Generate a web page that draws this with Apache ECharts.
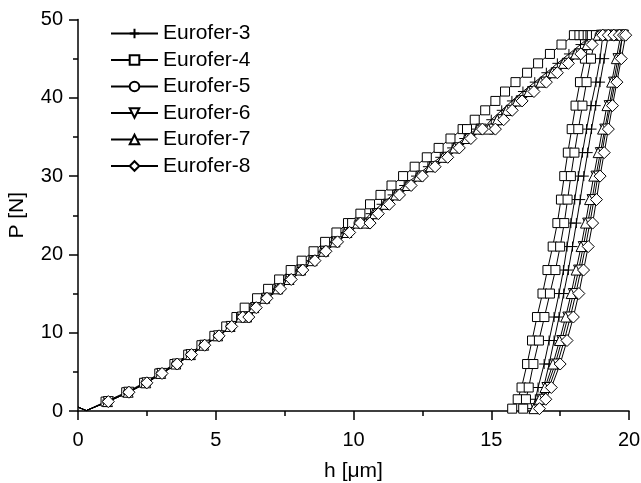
<!DOCTYPE html>
<html>
<head>
<meta charset="utf-8">
<title>Eurofer P-h</title>
<script src="https://cdn.jsdelivr.net/npm/echarts@6.0.0/dist/echarts.min.js"></script>
<style>
  html, body { margin: 0; padding: 0; background: #fff; }
  #chart { width: 641px; height: 483px; }
</style>
</head>
<body>
<div id="chart"></div>
<script>
// loading branch: load levels [N] (holds at 12, 24, 36 and 48 N)
const loadP = [0.5, 0.05, 1.2, 2.4, 3.6, 4.8, 6.0, 7.2, 8.4, 9.6, 10.8, 12.0, 12.0, 13.2, 14.4, 15.6, 16.8, 18.0, 19.2, 20.4, 21.6, 22.8, 24.0, 24.0, 25.2, 26.4, 27.6, 28.8, 30.0, 31.2, 32.4, 33.6, 34.8, 36.0, 36.0, 37.2, 38.4, 39.6, 40.8, 42.0, 43.2, 44.4, 45.6, 46.8, 48.0, 48.0, 48.0, 48.0, 48.0];

// depth [um] at each load level
const loadH3 = [0.0, 0.3, 1.05, 1.8, 2.45, 3.0, 3.55, 4.06, 4.55, 5.05, 5.5, 5.88, 6.08, 6.28, 6.7, 7.12, 7.52, 7.95, 8.38, 8.8, 9.2, 9.62, 10.05, 10.3, 10.62, 11.02, 11.42, 11.84, 12.27, 12.7, 13.15, 13.58, 14.02, 14.45, 14.7, 15.0, 15.38, 15.75, 16.15, 16.58, 17.0, 17.4, 17.82, 18.24, 18.65, 18.75, 18.85, 18.95, 19.05];
const loadH4 = [0.0, 0.3, 1.0, 1.75, 2.4, 2.95, 3.5, 4.0, 4.48, 4.95, 5.38, 5.75, 5.92, 6.05, 6.5, 6.9, 7.3, 7.72, 8.12, 8.55, 8.97, 9.38, 9.8, 9.95, 10.25, 10.6, 10.98, 11.38, 11.8, 12.22, 12.66, 13.09, 13.52, 13.96, 14.12, 14.4, 14.78, 15.15, 15.5, 15.88, 16.3, 16.7, 17.13, 17.55, 18.0, 18.2, 18.35, 18.5, 18.6];
const loadH5 = [0.0, 0.3, 1.08, 1.83, 2.48, 3.03, 3.58, 4.1, 4.58, 5.1, 5.55, 5.95, 6.16, 6.42, 6.82, 7.3, 7.7, 8.12, 8.55, 8.96, 9.37, 9.8, 10.2, 10.52, 10.82, 11.22, 11.6, 12.02, 12.43, 12.88, 13.33, 13.75, 14.18, 14.6, 15.0, 15.32, 15.65, 16.02, 16.44, 16.88, 17.3, 17.7, 18.14, 18.55, 18.95, 19.2, 19.4, 19.6, 19.75];
const loadH6 = [0.0, 0.3, 1.1, 1.84, 2.5, 3.04, 3.6, 4.1, 4.6, 5.1, 5.56, 5.96, 6.18, 6.45, 6.84, 7.32, 7.72, 8.14, 8.58, 8.98, 9.4, 9.83, 10.22, 10.56, 10.86, 11.26, 11.64, 12.06, 12.47, 12.92, 13.38, 13.8, 14.22, 14.64, 15.08, 15.4, 15.72, 16.08, 16.5, 16.95, 17.36, 17.76, 18.2, 18.6, 19.0, 19.2, 19.42, 19.6, 19.78];
const loadH7 = [0.0, 0.3, 1.07, 1.82, 2.46, 3.0, 3.55, 4.08, 4.56, 5.07, 5.52, 5.92, 6.12, 6.38, 6.78, 7.25, 7.66, 8.08, 8.5, 8.92, 9.33, 9.76, 10.15, 10.45, 10.76, 11.15, 11.53, 11.95, 12.36, 12.8, 13.25, 13.67, 14.1, 14.52, 14.9, 15.22, 15.56, 15.94, 16.36, 16.8, 17.22, 17.62, 18.06, 18.48, 18.88, 19.1, 19.32, 19.52, 19.7];
const loadH8 = [0.0, 0.3, 1.1, 1.85, 2.5, 3.05, 3.6, 4.12, 4.6, 5.12, 5.58, 5.98, 6.2, 6.47, 6.86, 7.35, 7.74, 8.16, 8.6, 9.0, 9.42, 9.86, 10.25, 10.6, 10.9, 11.3, 11.67, 12.09, 12.5, 12.96, 13.42, 13.84, 14.26, 14.68, 15.15, 15.45, 15.76, 16.12, 16.55, 17.0, 17.4, 17.8, 18.25, 18.66, 19.05, 19.25, 19.45, 19.65, 19.8];

// unloading branch
const unloadP = [48, 45, 42, 39, 36, 33, 30, 27, 24, 21, 18, 15, 12, 9, 6, 3, 1.5, 0.3];
const unloadH3a = [19.1, 18.95, 18.8, 18.62, 18.46, 18.31, 18.16, 18.03, 17.89, 17.75, 17.62, 17.46, 17.28, 17.1, 16.92, 16.7, 16.6, 16.48];
const unloadH3b = [19.25, 19.1, 18.95, 18.79, 18.64, 18.5, 18.36, 18.23, 18.09, 17.95, 17.8, 17.63, 17.46, 17.28, 17.1, 16.9, 16.76, 16.6];
const unloadH4a = [18.65, 18.4, 18.22, 18.06, 17.92, 17.78, 17.65, 17.53, 17.4, 17.23, 17.04, 16.86, 16.66, 16.48, 16.3, 16.1, 15.96, 15.76];
const unloadH4b = [18.8, 18.62, 18.46, 18.31, 18.16, 18.02, 17.89, 17.77, 17.65, 17.5, 17.33, 17.13, 16.93, 16.73, 16.53, 16.36, 16.26, 16.16];
const unloadH5 = [19.82, 19.66, 19.5, 19.33, 19.17, 19.02, 18.87, 18.73, 18.58, 18.42, 18.25, 18.07, 17.87, 17.65, 17.4, 17.1, 16.9, 16.7];
const unloadH6 = [19.8, 19.6, 19.44, 19.28, 19.12, 18.96, 18.8, 18.66, 18.5, 18.34, 18.17, 17.98, 17.78, 17.56, 17.32, 17.02, 16.83, 16.62];
const unloadH7 = [19.74, 19.54, 19.37, 19.2, 19.04, 18.88, 18.72, 18.57, 18.42, 18.26, 18.08, 17.9, 17.7, 17.48, 17.24, 16.95, 16.75, 16.55];
const unloadH8 = [19.88, 19.72, 19.56, 19.4, 19.25, 19.1, 18.95, 18.82, 18.68, 18.52, 18.35, 18.18, 17.98, 17.75, 17.5, 17.18, 16.98, 16.75];

const names = ['Eurofer-3', 'Eurofer-4', 'Eurofer-5', 'Eurofer-6', 'Eurofer-7', 'Eurofer-8'];

const FONT = '"Liberation Sans", Arial, Helvetica, sans-serif';
const PLUS = 'path://M5,0L5,10M0,5L10,5';

function pairs(hs, ps) {
    return hs.map(function (h, i) { return [h, ps[i]]; });
}

// loading curves: the first two points (contact) are drawn without markers
function curve(name, data, symbol, size, rotate, bareStart) {
    return {
        name: name,
        type: 'line',
        data: data,
        symbol: symbol,
        symbolSize: function (val, params) {
            return bareStart && params.dataIndex < 2 ? 0 : size;
        },
        symbolRotate: rotate || 0,
        showSymbol: true,
        clip: false,
        lineStyle: { color: '#000', width: 1 },
        itemStyle: { color: '#fff', borderColor: '#000', borderWidth: 1 },
        emphasis: { disabled: true }
    };
}

const chart = echarts.init(document.getElementById('chart'));

const option = {
    animation: false,
    textStyle: { fontFamily: FONT, color: '#000' },
    grid: {
        left: 78, right: 12, top: 19.5, bottom: 72,
        containLabel: false,
        outerBoundsMode: 'none'
    },
    legend: {
        data: names,
        orient: 'vertical',
        left: 110,
        top: 23,
        padding: 0,
        itemWidth: 47,
        itemHeight: 12,
        itemGap: 5.5,
        textStyle: { fontFamily: FONT, fontSize: 21, color: '#000', lineHeight: 21 }
    },
    xAxis: {
        type: 'value',
        min: 0, max: 20, interval: 5,
        name: 'h [μm]',
        nameLocation: 'middle',
        nameGap: 50,
        nameTextStyle: { fontFamily: FONT, fontSize: 21, color: '#000' },
        axisLine: { show: true, onZero: false, lineStyle: { color: '#000', width: 1.5 } },
        axisTick: { show: true, length: 9, lineStyle: { color: '#000', width: 1.5 } },
        minorTick: { show: true, splitNumber: 2, length: 5, lineStyle: { color: '#000', width: 1.5 } },
        axisLabel: { fontFamily: FONT, fontSize: 20, color: '#000', margin: 19 },
        splitLine: { show: false }
    },
    yAxis: {
        type: 'value',
        min: 0, max: 50, interval: 10,
        name: 'P [N]',
        nameLocation: 'middle',
        nameGap: 50,
        nameTextStyle: { fontFamily: FONT, fontSize: 21, color: '#000' },
        axisLine: { show: true, onZero: false, lineStyle: { color: '#000', width: 1.5 } },
        axisTick: { show: true, length: 9, lineStyle: { color: '#000', width: 1.5 } },
        minorTick: { show: true, splitNumber: 2, length: 5, lineStyle: { color: '#000', width: 1.5 } },
        axisLabel: { fontFamily: FONT, fontSize: 20, color: '#000', margin: 15 },
        splitLine: { show: false }
    },
    series: [
        curve('Eurofer-3', pairs(loadH3, loadP).concat(pairs(unloadH3a, unloadP)), PLUS, 10, 0, true),
        curve('Eurofer-3', pairs(unloadH3b, unloadP), PLUS, 10),
        curve('Eurofer-4', pairs(loadH4, loadP).concat(pairs(unloadH4a, unloadP)), 'rect', 9, 0, true),
        curve('Eurofer-4', pairs(unloadH4b, unloadP), 'rect', 9),
        curve('Eurofer-5', pairs(loadH5, loadP).concat(pairs(unloadH5, unloadP)), 'circle', 10, 0, true),
        curve('Eurofer-6', pairs(loadH6, loadP).concat(pairs(unloadH6, unloadP)), 'triangle', 10, 180, true),
        curve('Eurofer-7', pairs(loadH7, loadP).concat(pairs(unloadH7, unloadP)), 'triangle', 10, 0, true),
        curve('Eurofer-8', pairs(loadH8, loadP).concat(pairs(unloadH8, unloadP)), 'diamond', 12, 0, true)
    ]
};

chart.setOption(option);
</script>
</body>
</html>
